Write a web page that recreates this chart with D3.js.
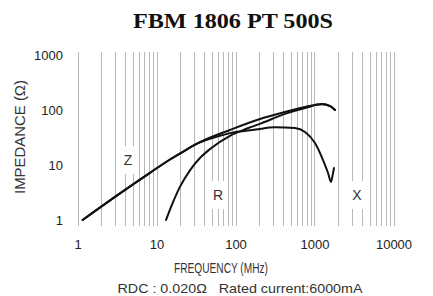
<!DOCTYPE html>
<html>
<head>
<meta charset="utf-8">
<script src="https://d3js.org/d3.v7.min.js"></script>
<style>
  body { margin: 0; background: #fff; }
  .tick text { font-family: "Liberation Sans", Arial, sans-serif; font-size: 13px; fill: #222; }
  .lbl { font-family: "Liberation Sans", Arial, sans-serif; fill: #333; }
</style>
</head>
<body>
<svg width="433" height="296"></svg>
<script>
// values
var freqZ = [1.16, 3.45, 8.27, 14.8, 22.9, 35.5, 85, 204, 423, 759, 1245, 1570, 1817];
var valZ  = [1.0, 3.05, 7.2, 12.6, 18.3, 26, 43.3, 68.6, 92, 113, 128, 119, 100];

var freqR = [13.2, 15.7, 19.8, 26.5, 35.5, 47.6, 85, 140, 204, 423, 759, 1245, 1570, 1817];
var valR  = [1.0, 1.9, 4.0, 8.0, 13.4, 19.5, 34, 46, 56, 85, 109, 127, 118, 100];

var freqX = [1.16, 3.45, 8.27, 14.8, 22.9, 29, 63.6, 85, 180, 316, 566, 759, 1014, 1283, 1484, 1619, 1716, 1766];
var valX  = [1.0, 3.05, 7.2, 12.6, 18.3, 22.6, 34, 38, 44, 48.5, 47, 39.8, 25.1, 12.3, 7.16, 4.91, 7.16, 8.8];

var xTicks = [1, 10, 100, 1000, 10000];
var yTicks = [1, 10, 100, 1000];
var curveNames = ["Z", "R", "X"];
var namePos = [[4.36, 12.3], [60, 2.85], [3446, 2.85]];

var svg = d3.select("svg");

var x = d3.scaleLog().domain([1, 10000]).range([77.5, 393.5]);
var y = d3.scaleLog().domain([1, 1000]).range([220, 55]);

// vertical grid, every 1..9 of each decade
var gridVals = [];
for (var k = 0; k < 4; k++) {
  for (var n = 1; n < 10; n++) gridVals.push(n * Math.pow(10, k));
}
gridVals.push(10000);

svg.append("g")
  .selectAll("line")
  .data(gridVals)
  .enter().append("line")
  .attr("x1", d => Math.round(x(d)) + 0.5)
  .attr("x2", d => Math.round(x(d)) + 0.5)
  .attr("y1", y(1000) - 3)
  .attr("y2", y(1) + 6)
  .attr("stroke", "#b8b8b8")
  .attr("stroke-width", 1);

// axes (labels only)
var xAxis = svg.append("g")
  .attr("transform", "translate(0," + (y(1) + 17) + ")")
  .call(d3.axisBottom(x).tickValues(xTicks).tickSize(0).tickFormat(d3.format("d")));
xAxis.select(".domain").remove();

var yAxis = svg.append("g")
  .attr("transform", "translate(66,0)")
  .call(d3.axisLeft(y).tickValues(yTicks).tickSize(0).tickFormat(d3.format("d")));
yAxis.select(".domain").remove();

// curve labels with white box behind
var labels = svg.append("g")
  .selectAll("g")
  .data(curveNames)
  .enter().append("g")
  .attr("transform", (d, i) => "translate(" + x(namePos[i][0]) + "," + y(namePos[i][1]) + ")");
labels.append("rect")
  .attr("x", -10).attr("y", -14).attr("width", 20).attr("height", 28)
  .attr("fill", "#fff");
labels.append("text")
  .attr("class", "lbl")
  .attr("text-anchor", "middle")
  .attr("dy", "0.36em")
  .style("font-size", "14px")
  .text(d => d);

var line = d3.line()
  .x(d => x(d[0]))
  .y(d => y(d[1]))
  .curve(d3.curveMonotoneX);

var series = [
  d3.zip(freqZ, valZ),
  d3.zip(freqR, valR),
  d3.zip(freqX, valX)
];

svg.append("g")
  .selectAll("path")
  .data(series)
  .enter().append("path")
  .attr("d", line)
  .attr("fill", "none")
  .attr("stroke", "#111")
  .attr("stroke-width", 2)
  .attr("stroke-linejoin", "round")
  .attr("stroke-linecap", "round");

// title
svg.append("text")
  .attr("x", 233).attr("y", 28)
  .attr("text-anchor", "middle")
  .style("font-family", "'Liberation Serif', 'Times New Roman', serif")
  .style("font-weight", "bold")
  .style("font-size", "21px")
  .style("fill", "#111")
  .attr("textLength", 200)
  .attr("lengthAdjust", "spacingAndGlyphs")
  .text("FBM 1806 PT 500S");

// axis titles
svg.append("text")
  .attr("class", "lbl")
  .attr("transform", "translate(25,137) rotate(-90)")
  .attr("text-anchor", "middle")
  .style("font-size", "14px")
  .attr("textLength", 114)
  .attr("lengthAdjust", "spacingAndGlyphs")
  .text("IMPEDANCE (Ω)");

svg.append("text")
  .attr("class", "lbl")
  .attr("x", 221).attr("y", 273)
  .attr("text-anchor", "middle")
  .style("font-size", "14px")
  .attr("textLength", 94)
  .attr("lengthAdjust", "spacingAndGlyphs")
  .text("FREQUENCY (MHz)");

svg.append("text")
  .attr("class", "lbl")
  .attr("x", 240).attr("y", 293)
  .attr("text-anchor", "middle")
  .style("font-size", "13px")
  .attr("xml:space", "preserve")
  .attr("textLength", 245)
  .attr("lengthAdjust", "spacingAndGlyphs")
  .text("RDC : 0.020Ω   Rated current:6000mA");
</script>
</body>
</html>
